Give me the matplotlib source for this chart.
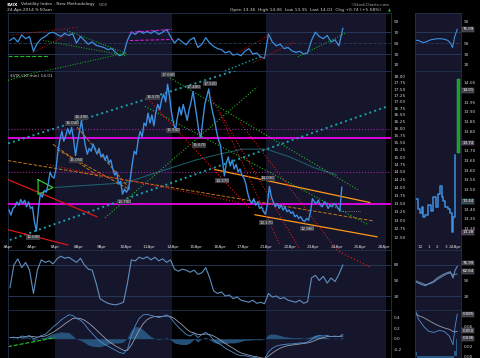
import matplotlib
matplotlib.use('Agg')
import matplotlib.pyplot as plt
import matplotlib.ticker as mticker
import matplotlib.transforms as mtrans
import numpy as np

W, H = 480, 358

def px_rect(x0, y0, x1, y1):
    # pixel box -> figure fraction
    return [x0 / W, 1 - y1 / H, (x1 - x0) / W, (y1 - y0) / H]

# ---- data ----
dates = ['3Apr', '4Apr', '7Apr', '8Apr', '9Apr', '10Apr', '11Apr', '14Apr', '15Apr',
         '16Apr', '17Apr', '21Apr', '22Apr', '23Apr', '24Apr', '25Apr', '28Apr']

vix_days = [
    [13.30, 13.15, 13.35, 13.40, 13.55, 13.45, 13.62, 13.50, 13.60, 13.40, 13.55, 13.35],
    [13.40, 12.95, 12.69, 13.30, 13.80, 13.70, 13.90, 13.85, 14.10, 14.50, 14.35, 14.30],
    [14.60, 15.20, 15.60, 15.90, 15.55, 15.75, 16.00, 15.80, 16.04, 15.60, 15.05, 15.50],
    [15.90, 16.29, 15.80, 15.40, 15.10, 15.30, 15.20, 15.45, 15.25, 15.10, 15.30, 15.00],
    [15.10, 14.90, 15.05, 14.80, 14.90, 14.60, 14.40, 14.50, 14.10, 14.20, 13.79, 13.95],
    [13.85, 13.95, 14.30, 14.80, 15.20, 15.10, 15.60, 15.90, 15.70, 16.20, 16.10, 16.57],
    [16.20, 16.50, 16.10, 16.60, 16.90, 16.70, 17.10, 17.30, 17.00, 17.69, 17.20, 16.60],
    [16.20, 15.94, 16.40, 16.80, 16.50, 16.90, 16.60, 16.30, 16.70, 17.00, 17.40, 16.90],
    [16.40, 15.90, 15.67, 16.30, 16.90, 17.20, 17.50, 17.00, 16.60, 16.30, 15.90, 15.60],
    [15.40, 14.90, 14.37, 14.80, 15.00, 14.70, 14.90, 14.60, 14.75, 14.50, 14.60, 14.40],
    [14.30, 14.10, 13.80, 13.60, 13.50, 13.65, 13.45, 13.55, 13.35, 13.40, 13.25, 13.17],
    [13.50, 14.03, 13.70, 13.55, 13.40, 13.50, 13.35, 13.45, 13.30, 13.40, 13.25, 13.30],
    [13.20, 13.25, 13.10, 13.15, 13.05, 13.10, 13.00, 12.96, 13.05, 13.00, 13.25, 13.65],
    [13.55, 13.50, 13.60, 13.45, 13.40, 13.55, 13.50, 13.35, 13.45, 13.40, 13.50, 13.45],
    [13.36, 13.28, 14.01],
]

ma_day = [2, 3, 4, 5, 6, 7, 8, 9, 10, 11, 12, 13, 14]
ma_val = [14.0, 14.05, 14.1, 14.15, 14.4, 14.65, 14.9, 15.1, 15.27, 15.27, 15.0, 14.65, 14.4]

rsi_days = [
    [55, 60, 52, 65, 58, 62], [35, 50, 58, 62, 68, 70], [66, 62, 68, 64, 67, 50],
    [62, 55, 48, 52, 46, 44], [42, 38, 40, 33, 27, 30], [55, 70, 66, 72, 68, 71],
    [68, 72, 66, 70, 75, 62], [50, 58, 52, 47, 56, 60], [42, 48, 60, 50, 44, 40],
    [38, 32, 35, 28, 30, 27], [35, 40, 30, 32, 25, 22], [67, 52, 45, 48, 40, 42],
    [36, 33, 35, 30, 32, 55], [70, 62, 58, 64, 52, 56], [45, 77],
]

sto_days = [
    [36, 80, 92, 75, 85, 70], [25, 70, 90, 85, 88, 82], [92, 97, 93, 95, 90, 85],
    [93, 80, 72, 70, 45, 15], [10, 6, 4, 3, 5, 8], [45, 90, 88, 95, 92, 96],
    [90, 95, 88, 92, 85, 90], [72, 68, 72, 70, 66, 70], [62, 65, 75, 55, 30, 25],
    [28, 20, 22, 15, 18, 12], [10, 8, 12, 6, 8, 5], [25, 18, 20, 15, 17, 12],
    [10, 8, 12, 6, 9, 55], [60, 50, 58, 45, 55, 48], [62, 80],
]

macd_days = [
    [0.02, 0.03, 0.01, 0.05, 0.04, 0.06], [0.00, 0.02, 0.06, 0.08, 0.15, 0.22],
    [0.28, 0.35, 0.40, 0.45, 0.44, 0.38], [0.35, 0.28, 0.18, 0.10, 0.02, -0.05],
    [-0.10, -0.14, -0.18, -0.22, -0.26, -0.28], [-0.20, 0.05, 0.25, 0.38, 0.45, 0.46],
    [0.44, 0.42, 0.40, 0.42, 0.45, 0.40], [0.30, 0.22, 0.15, 0.08, 0.05, 0.10],
    [0.02, 0.08, 0.12, 0.06, -0.02, -0.08], [-0.12, -0.18, -0.22, -0.26, -0.30, -0.32],
    [-0.32, -0.34, -0.35, -0.36, -0.38, -0.38], [-0.25, -0.18, -0.14, -0.12, -0.11, -0.10],
    [-0.10, -0.09, -0.08, -0.08, -0.06, -0.02], [0.04, 0.06, 0.05, 0.06, 0.04, 0.05],
    [0.04, 0.08],
]
signal_days = [
    [0.02, 0.02, 0.02, 0.03, 0.03, 0.04], [0.04, 0.03, 0.04, 0.05, 0.08, 0.12],
    [0.17, 0.22, 0.28, 0.33, 0.38, 0.39], [0.38, 0.35, 0.30, 0.24, 0.17, 0.10],
    [0.03, -0.04, -0.09, -0.14, -0.18, -0.22], [-0.22, -0.12, 0.02, 0.16, 0.28, 0.36],
    [0.40, 0.42, 0.42, 0.42, 0.43, 0.42], [0.38, 0.32, 0.26, 0.19, 0.13, 0.11],
    [0.08, 0.08, 0.09, 0.08, 0.05, 0.01], [-0.04, -0.09, -0.14, -0.18, -0.23, -0.27],
    [-0.29, -0.31, -0.33, -0.34, -0.36, -0.37], [-0.33, -0.27, -0.22, -0.18, -0.15, -0.13],
    [-0.12, -0.11, -0.10, -0.09, -0.08, -0.06], [-0.03, 0.00, 0.02, 0.04, 0.04, 0.04],
    [0.04, 0.05],
]

# price labels on the chart (day, price, text)
peak_labels = [(1.06, 12.50, '12.690'), (2.72, 16.19, '16.040'), (3.11, 16.42, '16.290'),
               (2.89, 14.89, '15.050'), (4.94, 13.56, '13.790'), (6.17, 17.18, '16.570'),
               (6.81, 18.07, '17.690'), (7.02, 15.94, '15.940'), (7.91, 17.58, '17.400'),
               (8.60, 17.72, '17.500'), (8.13, 15.41, '15.670'), (9.11, 14.22, '14.370'),
               (11.06, 14.29, '14.030'), (10.98, 12.92, '13.170'), (12.72, 12.75, '12.960')]

# trendlines in the price panel: (day0, price0, day1, price1)
teal_lines = [(0.08, 12.43, 16.17, 16.83), (0.0, 15.47, 9.87, 18.31)]
green_lines = [(0.0, 17.85, 3.28, 18.74), (6.68, 18.07, 14.89, 13.93),
               (5.83, 16.83, 15.32, 12.87), (4.13, 13.07, 10.60, 17.58)]
orange_solid = [(8.81, 14.58, 15.40, 13.53), (10.51, 13.16, 15.70, 12.52)]
orange_dash = [(0.0, 14.88, 15.53, 12.98), (2.94, 16.05, 5.19, 13.96),
               (2.09, 15.26, 5.19, 13.93), (1.91, 15.44, 3.91, 14.32)]
red_solid = [(0.0, 14.25, 3.79, 13.10), (0.0, 12.72, 2.55, 12.29)]
red_dash = [(1.66, 14.75, 9.87, 13.53), (6.04, 17.03, 10.30, 13.34),
            (8.51, 17.38, 12.43, 12.15), (9.87, 16.23, 14.0, 12.15),
            (9.02, 16.53, 11.57, 12.29)]
magenta_levels = [13.50, 15.65]
purple_levels = [14.50, 16.00]
tri_day = [1.28, 1.91, 1.28, 1.28]
tri_val = [14.25, 14.00, 13.78, 14.25]

# trendlines drawn on the RSI panel: (day0, rsi0, day1, rsi1)
rsi_red = [(0.0, 64, 2.98, 78.9), (1.06, 32.4, 2.72, 69.6),
           (9.57, 26.8, 11.23, 67.7), (10.43, 13.8, 12.13, 51.0)]
rsi_green = [(2.51, 73.3, 5.06, 30.5), (1.49, 54.7, 5.06, 26.8),
             (1.57, -1, 5.06, 32.4), (12.34, 24.9, 14.34, 67.7)]
rsi_green_flat = [(0.0, 26.8, 1.70, 26.8)]
rsi_magenta = [(5.19, 69.6, 6.98, 75.2), (5.19, 54.7, 7.02, 56.6)]
rsi_teal = [(9.23, -1, 10.72, 24.9)]
sto_red = [(13.96, 109, 15.4, 76)]
macd_green = [(0.0, -0.15, 2.0, 0.02)]

# right-hand intraday panel (hours after 11:00, 23 Apr; 24 Apr opens at 5)
mini_t = [0.45, 0.7, 1.0, 1.2, 1.35, 1.6, 1.9, 2.2, 2.5, 2.8, 3.1, 3.3, 3.5, 3.65,
          3.9, 4.2, 4.45, 4.7, 4.85, 5.0, 5.05]
mini_px = [13.45, 13.40, 13.38, 13.41, 13.36, 13.37, 13.42, 13.39, 13.46, 13.41, 13.48,
           13.52, 13.46, 13.44, 13.41, 13.40, 13.38, 13.28, 13.36, 13.68, 13.68]
mini_bar = (5.42, 13.69, 14.07)
mini_ticks = [13.30, 13.35, 13.40, 13.50, 13.55, 13.60, 13.65, 13.70, 13.80, 13.85, 13.90, 13.95, 14.05]
mini_rsi_t = [0.45, 0.8, 1.0, 1.4, 1.8, 2.2, 2.6, 3.0, 3.4, 3.8, 4.2, 4.5, 4.75, 5.0, 5.3]
mini_rsi = [55, 55, 53, 51, 53, 56, 57, 58, 58, 57, 55, 50, 42, 62, 75.09]
mini_sto_t = [0.45, 0.7, 1.2, 1.6, 2.0, 2.5, 3.0, 3.5, 4.0, 4.5, 4.8, 5.05, 5.3]
mini_k = [48, 46, 42, 40, 44, 48, 55, 60, 64, 67, 55, 70, 76.99]
mini_d = [50, 48, 45, 42, 43, 46, 52, 57, 62, 65, 60, 62, 62.64]
mini_macd_t = [0.45, 0.8, 1.4, 2.0, 2.6, 3.2, 3.8, 4.4, 4.8, 5.05, 5.3]
mini_macd = [0.093, 0.075, 0.060, 0.050, 0.048, 0.052, 0.050, 0.040, 0.023, 0.060, 0.085]
mini_signal = [0.085, 0.082, 0.078, 0.072, 0.066, 0.061, 0.057, 0.054, 0.050, 0.049, 0.050]
mini_hours = [1, 2, 3, 4, 5]
mini_hour_labels = ['12', '1', '2', '3', '24Apr']


def day_x(days):
    xs, ys = [], []
    n = len(days[0])
    for d, vals in enumerate(days):
        for i, v in enumerate(vals):
            xs.append(d + (i + 0.5) / n)
            ys.append(v)
    return np.array(xs), np.array(ys)


BG = 'black'
SHADE = '#15152c'
SPINE = '#22324f'
TXT = '#d2d2d2'
BLUE = '#3d8fe0'
FS = 3.1

fig = plt.figure(figsize=(4.8, 3.58), dpi=100, facecolor=BG)

ax_rsi = fig.add_axes(px_rect(8, 13, 391, 71))
ax_main = fig.add_axes(px_rect(8, 71, 391, 250))
ax_sto = fig.add_axes(px_rect(8, 250, 391, 310))
ax_macd = fig.add_axes(px_rect(8, 310, 391, 357.5))
m_rsi = fig.add_axes(px_rect(415, 13, 461, 71))
m_main = fig.add_axes(px_rect(415, 71, 461, 250))
m_sto = fig.add_axes(px_rect(415, 250, 461, 310))
m_macd = fig.add_axes(px_rect(415, 310, 461, 357.5))

for ax in [ax_rsi, ax_main, ax_sto, ax_macd, m_rsi, m_main, m_sto, m_macd]:
    ax.set_facecolor(BG)
    ax.set_xticks([])
    ax.yaxis.tick_right()
    ax.tick_params(axis='y', which='both', length=0, labelsize=FS, labelcolor=TXT, pad=2)
    for s in ax.spines.values():
        s.set_color(SPINE)
        s.set_linewidth(0.6)

for ax in [ax_rsi, ax_main, ax_sto, ax_macd]:
    ax.set_xlim(0, 16.3)
    ax.axvspan(2, 7, color=SHADE, lw=0, zorder=0)
    ax.axvspan(11, 16.1, color=SHADE, lw=0, zorder=0)

for ax in [m_rsi, m_main, m_sto, m_macd]:
    ax.set_facecolor(SHADE)
    ax.set_xlim(0.4, 5.73)


def seglines(ax, segs, **kw):
    for x0, y0, x1, y1 in segs:
        ax.plot([x0, x1], [y0, y1], **kw)


def last_box(ax, y, s, ec='#777777'):
    tr = mtrans.blended_transform_factory(ax.transAxes, ax.transData)
    ax.text(1.03, y, s, transform=tr, fontsize=2.9, color='white', va='center', ha='left',
            bbox=dict(boxstyle='square,pad=0.1', fc='#3a3a44', ec=ec, lw=0.3))

# ---- RSI panel ----
x, y = day_x(rsi_days)
ax_rsi.set_ylim(-1, 105)
ax_rsi.set_yticks([10, 30, 50, 70, 90])
for lvl in [30, 70]:
    ax_rsi.axhline(lvl, color='#2a3d5e', lw=0.6)
ax_rsi.axhline(50, color='#2a3d5e', lw=0.6, ls=(0, (4, 2)))
ax_rsi.plot(x, y, color=BLUE, lw=0.9)
seglines(ax_rsi, rsi_red, color='#c01818', lw=0.7, ls=':')
seglines(ax_rsi, rsi_green, color='#22bb22', lw=0.7, ls=':')
seglines(ax_rsi, rsi_green_flat, color='#22bb22', lw=0.8, ls='--')
seglines(ax_rsi, rsi_magenta, color='#e020e0', lw=0.7, ls='--')
seglines(ax_rsi, rsi_teal, color='#1aa3a8', lw=1.0, ls=':')

# ---- price panel ----
ax_main.set_yscale('log')
ax_main.set_ylim(12.15, 18.23)
ticks = np.arange(12.5, 18.01, 0.25)
ax_main.yaxis.set_major_locator(mticker.FixedLocator(ticks))
ax_main.yaxis.set_minor_locator(mticker.NullLocator())
ax_main.yaxis.set_major_formatter(mticker.FixedFormatter(['%.2f' % t for t in ticks]))

for lvl in magenta_levels:
    ax_main.axhline(lvl, color='#ff00ff', lw=1.2, zorder=3)
for lvl in purple_levels:
    ax_main.axhline(lvl, color='#a020a0', lw=0.8, ls=':', zorder=3)
ax_main.plot(ma_day, ma_val, color='#1f6f78', lw=0.8, alpha=0.8, zorder=2)
seglines(ax_main, teal_lines, color='#1aa3a8', lw=1.4, ls=':', zorder=3)
seglines(ax_main, green_lines, color='#22bb22', lw=0.8, ls=':', zorder=3)
seglines(ax_main, orange_solid, color='#ff9a1a', lw=0.9, zorder=3)
seglines(ax_main, orange_dash, color='#c07818', lw=0.7, ls='--', zorder=3)
seglines(ax_main, red_solid, color='#d81818', lw=0.9, zorder=3)
seglines(ax_main, red_dash, color='#d81818', lw=0.8, ls=':', zorder=3)
ax_main.plot(tri_day, tri_val, color='#33dd33', lw=0.8, zorder=4)
ax_main.plot([14.1, 15.0], [13.28, 13.28], color='#aaaaaa', lw=0.5, ls=':', zorder=3)

x, y = day_x(vix_days)
ax_main.plot(x, y, color=BLUE, lw=1.0, zorder=5)

for d, v, s in peak_labels:
    ax_main.text(d, v, s, fontsize=2.8, color='#e6e6e6', ha='center', va='center', zorder=6,
                 bbox=dict(boxstyle='square,pad=0.12', fc='#3c3c44', ec='none'))

for i, lab in enumerate(dates):
    ax_main.text(i, 0.018, lab, transform=mtrans.blended_transform_factory(ax_main.transData, ax_main.transAxes),
                 fontsize=FS, color=TXT, ha='center', va='center')

ax_main.text(0.004, 0.975, '$VIX (10 min) 14.01', transform=ax_main.transAxes, fontsize=FS,
             color=TXT, ha='left', va='center')

# ---- stochastics panel ----
x, y = day_x(sto_days)
ax_sto.set_ylim(-7, 109)
ax_sto.set_yticks([20, 50, 80])
for lvl in [20, 80]:
    ax_sto.axhline(lvl, color='#2a3d5e', lw=0.6)
ax_sto.plot(x, y, color='#5f8fbf', lw=0.8)
seglines(ax_sto, sto_red, color='#d81818', lw=0.9, ls=':')

# ---- MACD panel ----
x, m = day_x(macd_days)
_, s = day_x(signal_days)
ax_macd.set_ylim(-0.355, 0.542)
ax_macd.set_yticks([-0.2, 0.0, 0.2, 0.4])
ax_macd.yaxis.set_major_formatter(mticker.FormatStrFormatter('%.1f'))
ax_macd.fill_between(x, 0, m - s, color='#2a5a85', lw=0, alpha=0.9)
ax_macd.plot(x, s, color='#9aa0b0', lw=0.6)
ax_macd.plot(x, m, color='#4f8fcf', lw=0.6)
seglines(ax_macd, macd_green, color='#22cc22', lw=0.8, ls='--')

# ---- right intraday panels ----
m_rsi.set_ylim(-1, 105)
m_rsi.set_yticks([10, 30, 50, 90])
for lvl in [30, 70]:
    m_rsi.axhline(lvl, color='#2a3d5e', lw=0.6)
m_rsi.axhline(50, color='#2a3d5e', lw=0.6, ls=(0, (4, 2)))
m_rsi.plot(mini_rsi_t, mini_rsi, color=BLUE, lw=0.8)
last_box(m_rsi, mini_rsi[-1], '75.09')

m_main.set_ylim(13.19, 14.11)
m_main.yaxis.set_major_locator(mticker.FixedLocator(mini_ticks))
m_main.yaxis.set_major_formatter(mticker.FixedFormatter(['%.2f' % t for t in mini_ticks]))
m_main.plot(mini_t, mini_px, color=BLUE, lw=1.1, drawstyle='steps-post')
m_main.bar(mini_bar[0], mini_bar[2] - mini_bar[1], bottom=mini_bar[1], width=0.35,
           color='#1e9a2a', edgecolor='#2ecc40', lw=0.3)
last_box(m_main, 14.01, '14.01')
last_box(m_main, 13.74, '13.74', ec='#aa66aa')
last_box(m_main, 13.44, '13.44', ec='#3aaab0')
last_box(m_main, 13.28, '13.28', ec='#aa66aa')
for h, lab in zip(mini_hours, mini_hour_labels):
    m_main.text(h, 0.018, lab, transform=mtrans.blended_transform_factory(m_main.transData, m_main.transAxes),
                fontsize=FS, color=TXT, ha='center', va='center')

m_sto.set_ylim(-7, 109)
m_sto.set_yticks([20, 50])
for lvl in [20, 80]:
    m_sto.axhline(lvl, color='#2a3d5e', lw=0.6)
m_sto.plot(mini_sto_t, mini_d, color='#7d8aa0', lw=0.6)
m_sto.plot(mini_sto_t, mini_k, color='#5f8fbf', lw=0.8)
last_box(m_sto, 84, '76.99')
last_box(m_sto, 68, '62.64')

mm = np.array(mini_macd)
ms = np.array(mini_signal)
m_macd.set_ylim(-0.003, 0.0934)
m_macd.set_yticks([0.0, 0.02, 0.06])
m_macd.yaxis.set_major_formatter(mticker.FormatStrFormatter('%.2f'))
m_macd.fill_between(mini_macd_t, 0, mm - ms, color='#2a5a85', lw=0, step='mid')
m_macd.plot(mini_macd_t, ms, color='#9aa0b0', lw=0.6)
m_macd.plot(mini_macd_t, mm, color='#4f8fcf', lw=0.6)
last_box(m_macd, 0.085, '0.085')
last_box(m_macd, 0.051, '0.050')
last_box(m_macd, 0.036, '0.036')

# ---- header ----
fig.text(7 / W, 1 - 4.5 / H, '$VIX', fontsize=3.2, color='white', weight='bold', va='center')
fig.text(21 / W, 1 - 4.5 / H, 'Volatility Index - New Methodology', fontsize=3.1, color=TXT, va='center')
fig.text(99 / W, 1 - 4.5 / H, 'INDX', fontsize=2.6, color='#999999', va='center')
fig.text(7 / W, 1 - 10.5 / H, '24-Apr-2014 9:50am', fontsize=3.2, color=TXT, va='center')
fig.text(350 / W, 1 - 4.5 / H, '\u00a9StockCharts.com', fontsize=3.0, color='#aaaaaa', va='center')
fig.text(230 / W, 1 - 10.5 / H,
         'Open 13.36  High 14.06  Low 13.35  Last 14.01  Chg +0.74 (+5.58%)',
         fontsize=3.15, color=TXT, va='center')
fig.text(388 / W, 1 - 10.5 / H, '\u25b2', fontsize=2.6, color='#22cc22', va='center')

fig.savefig('out.png', dpi=100, facecolor=BG)
